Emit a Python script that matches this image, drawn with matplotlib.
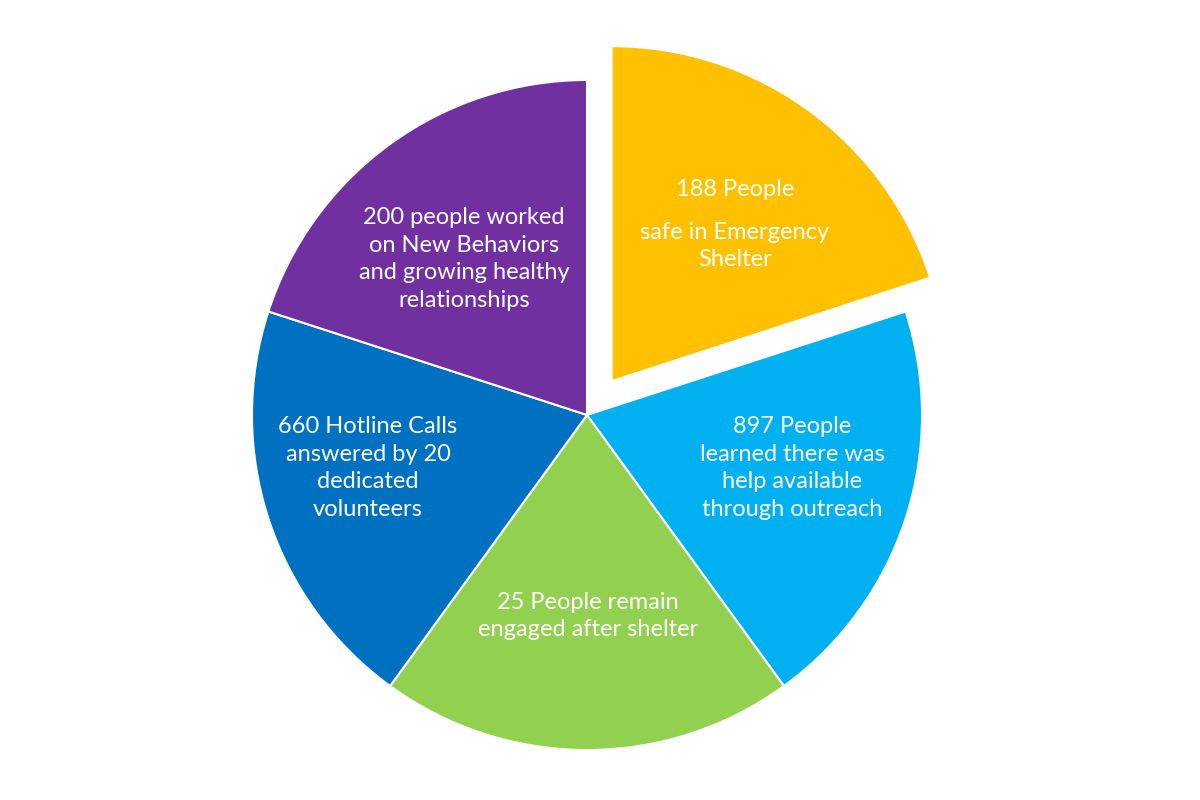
import matplotlib
matplotlib.use("Agg")
import matplotlib.pyplot as plt

# five program outcomes, drawn as equal slices
labels = [
    "188 People\nsafe in Emergency\nShelter",
    "897 People\nlearned there was\nhelp available\nthrough outreach",
    "25 People remain\nengaged after shelter",
    "660 Hotline Calls\nanswered by 20\ndedicated\nvolunteers",
    "200 people worked\non New Behaviors\nand growing healthy\nrelationships",
]
shares = [1, 1, 1, 1, 1]
colors = ["#FFC000", "#00B0F0", "#92D050", "#0070C0", "#7030A0"]
pulled = [True, False, False, False, False]

# label centres in pixel coords (x, y from top)
label_pos = [(735, 226), (792, 468), (588, 616), (368, 468), (464, 259)]

plt.rcParams['font.family'] = ['Lato', 'DejaVu Sans']

R = 335
fig = plt.figure(figsize=(12, 8), dpi=100)
ax = fig.add_axes([0, 0, 1, 1])

# pie's explode is in data units, not a fraction of the radius
explode = [0.125 * R if p else 0 for p in pulled]
ax.pie(shares, colors=colors, explode=explode, startangle=90, counterclock=False,
       center=(587, 385), radius=R,
       wedgeprops=dict(edgecolor="white", linewidth=1.5))

ax.set_xlim(0, 1200)
ax.set_ylim(0, 800)
ax.set_aspect("equal")
ax.axis("off")

fs = 17
for i, (txt, (x, y)) in enumerate(zip(labels, label_pos)):
    if i == 0:
        # first line stands a little apart in the original
        first, rest = txt.split("\n", 1)
        ax.text(x, 800 - 190, first, ha="center", va="center", color="white",
                fontsize=fs)
        ax.text(x, 800 - 246, rest, ha="center", va="center", color="white",
                fontsize=fs, linespacing=1.35)
    else:
        ax.text(x, 800 - y, txt, ha="center", va="center", color="white",
                fontsize=fs, linespacing=1.4)

fig.savefig("out.png", dpi=100, facecolor="white")
